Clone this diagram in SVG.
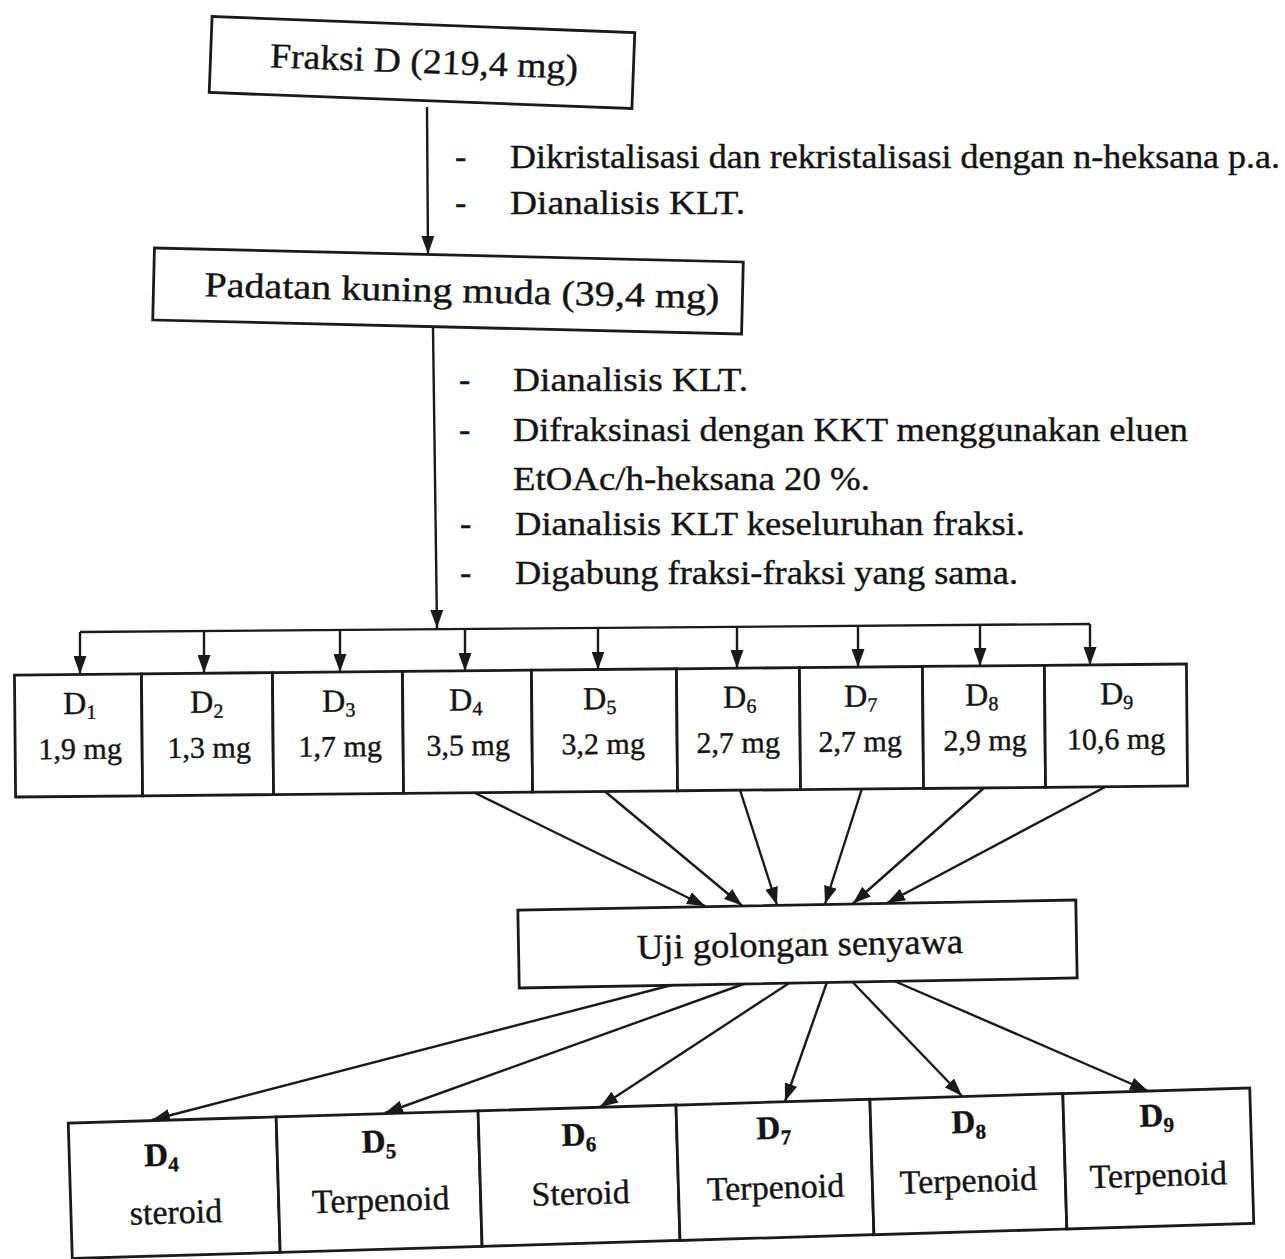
<svg xmlns="http://www.w3.org/2000/svg" width="1285" height="1259" viewBox="0 0 1285 1259" font-family="'Liberation Serif', 'Times New Roman', Times, serif">
<style>
.box{fill:#fff;stroke:#1a1a1a;stroke-width:2.8}
.cl{stroke:#1a1a1a;stroke-width:2.4;fill:none}
.ar{stroke:#1a1a1a;stroke-width:2.4;fill:none;marker-end:url(#ah)}
text{font-family:'Liberation Serif','Times New Roman',Times,serif;fill:#141414;stroke:#141414;stroke-width:0.4}
.t{font-size:35px}
.a{font-size:34px}
.c{font-size:32px;text-anchor:middle}
.m{font-size:30px;text-anchor:middle}
.b{font-size:33px;font-weight:bold;text-anchor:middle}
.n{font-size:34px;text-anchor:middle}
.mid{text-anchor:middle}
</style>
<defs>
<marker id="ah" markerUnits="userSpaceOnUse" viewBox="0 0 18 13" refX="18" refY="6.5" markerWidth="18" markerHeight="13" orient="auto">
<path d="M0,0 L18,6.5 L0,13 Z" fill="#1a1a1a"/>
</marker>
</defs>
<rect width="1285" height="1259" fill="#fff"/>

<g id="connectors">
<line class="ar" x1="427" y1="107" x2="428" y2="254"/>
<line class="ar" x1="433" y1="328" x2="437" y2="628"/>
<line class="cl" x1="80" y1="632" x2="1090" y2="624"/>
<line class="ar" x1="80" y1="632" x2="80" y2="674"/>
<line class="ar" x1="204" y1="631" x2="204" y2="673"/>
<line class="ar" x1="340" y1="630" x2="340" y2="672"/>
<line class="ar" x1="465" y1="629" x2="465" y2="671"/>
<line class="ar" x1="598" y1="628" x2="598" y2="669.5"/>
<line class="ar" x1="737" y1="627" x2="737" y2="668"/>
<line class="ar" x1="858" y1="626" x2="858" y2="667"/>
<line class="ar" x1="980" y1="625" x2="980" y2="666"/>
<line class="ar" x1="1090" y1="624" x2="1090" y2="665"/>
<line class="ar" x1="475" y1="793" x2="705" y2="906"/>
<line class="ar" x1="605" y1="791.5" x2="742" y2="905.5"/>
<line class="ar" x1="740" y1="790" x2="777" y2="905"/>
<line class="ar" x1="862" y1="788.5" x2="825" y2="904"/>
<line class="ar" x1="985" y1="787" x2="853" y2="903.5"/>
<line class="ar" x1="1107" y1="786" x2="887" y2="903"/>
<line class="ar" x1="672" y1="985" x2="152" y2="1120"/>
<line class="ar" x1="745" y1="983.5" x2="385" y2="1113"/>
<line class="ar" x1="790" y1="982.5" x2="600" y2="1107"/>
<line class="ar" x1="827" y1="982" x2="785" y2="1101.5"/>
<line class="ar" x1="852" y1="981.5" x2="962" y2="1096"/>
<line class="ar" x1="893" y1="980.5" x2="1148" y2="1091"/>
</g>

<g id="notes1">
<text class="a" x="455" y="168">-</text>
<text class="a" x="510" y="168" textLength="770" lengthAdjust="spacingAndGlyphs">Dikristalisasi dan rekristalisasi dengan n-heksana p.a.</text>
<text class="a" x="455" y="214">-</text>
<text class="a" x="510" y="214" textLength="235" lengthAdjust="spacingAndGlyphs">Dianalisis KLT.</text>
</g>

<g id="notes2">
<text class="a" x="459" y="391">-</text>
<text class="a" x="513" y="391" textLength="235" lengthAdjust="spacingAndGlyphs">Dianalisis KLT.</text>
<text class="a" x="459" y="441">-</text>
<text class="a" x="513" y="441" textLength="675" lengthAdjust="spacingAndGlyphs">Difraksinasi dengan KKT menggunakan eluen</text>
<text class="a" x="513" y="490" textLength="357" lengthAdjust="spacingAndGlyphs">EtOAc/h-heksana 20 %.</text>
<text class="a" x="460" y="535">-</text>
<text class="a" x="515" y="535" textLength="510" lengthAdjust="spacingAndGlyphs">Dianalisis KLT keseluruhan fraksi.</text>
<text class="a" x="460" y="584">-</text>
<text class="a" x="515" y="584" textLength="503" lengthAdjust="spacingAndGlyphs">Digabung fraksi-fraksi yang sama.</text>
</g>

<g id="fraksi-d" transform="rotate(2.17 422 62.5)">
<rect class="box" x="210.5" y="24.5" width="423" height="76"/>
<text class="t mid" x="424" y="73" textLength="308" lengthAdjust="spacingAndGlyphs">Fraksi D (219,4 mg)</text>
</g>

<g id="padatan" transform="rotate(1.36 448 291)">
<rect class="box" x="153.5" y="255" width="589" height="72"/>
<text class="t mid" x="462" y="302" textLength="515" lengthAdjust="spacingAndGlyphs">Padatan kuning muda (39,4 mg)</text>
</g>

<g transform="rotate(-0.54 601 730)">
<g id="frac-d1"><rect class="box" x="15" y="669.5" width="127" height="122"/>
<text class="c" x="80" y="709">D<tspan font-size="20" dy="5">1</tspan></text><text class="m" x="80" y="754">1,9 mg</text></g>
<g id="frac-d2"><rect class="box" x="142" y="669.5" width="131" height="122"/>
<text class="c" x="207" y="709">D<tspan font-size="20" dy="5">2</tspan></text><text class="m" x="209" y="754">1,3 mg</text></g>
<g id="frac-d3"><rect class="box" x="273" y="669.5" width="130" height="122"/>
<text class="c" x="339" y="709">D<tspan font-size="20" dy="5">3</tspan></text><text class="m" x="340" y="754">1,7 mg</text></g>
<g id="frac-d4"><rect class="box" x="403" y="669.5" width="129" height="122"/>
<text class="c" x="466" y="709">D<tspan font-size="20" dy="5">4</tspan></text><text class="m" x="468" y="754">3,5 mg</text></g>
<g id="frac-d5"><rect class="box" x="532" y="669.5" width="145" height="122"/>
<text class="c" x="600" y="709">D<tspan font-size="20" dy="5">5</tspan></text><text class="m" x="603" y="754">3,2 mg</text></g>
<g id="frac-d6"><rect class="box" x="677" y="669.5" width="123" height="122"/>
<text class="c" x="740" y="709">D<tspan font-size="20" dy="5">6</tspan></text><text class="m" x="738" y="754">2,7 mg</text></g>
<g id="frac-d7"><rect class="box" x="800" y="669.5" width="123" height="122"/>
<text class="c" x="861" y="709">D<tspan font-size="20" dy="5">7</tspan></text><text class="m" x="860" y="754">2,7 mg</text></g>
<g id="frac-d8"><rect class="box" x="923" y="669.5" width="122" height="122"/>
<text class="c" x="982" y="709">D<tspan font-size="20" dy="5">8</tspan></text><text class="m" x="985" y="754">2,9 mg</text></g>
<g id="frac-d9"><rect class="box" x="1045" y="669.5" width="142" height="122"/>
<text class="c" x="1117" y="709">D<tspan font-size="20" dy="5">9</tspan></text><text class="m" x="1116" y="754">10,6 mg</text></g>
</g>

<g id="uji" transform="rotate(-1.03 797.5 944)">
<rect class="box" x="518.5" y="905" width="558" height="78"/>
<text class="t mid" x="800" y="956" textLength="326" lengthAdjust="spacingAndGlyphs">Uji golongan senyawa</text>
</g>

<g transform="rotate(-1.7 661 1173)">
<g id="res-d4"><rect class="box" x="70" y="1105.5" width="208" height="135.5"/>
<text class="b" x="162" y="1151">D<tspan font-size="21" dy="6">4</tspan></text><text class="n" x="175" y="1209">steroid</text></g>
<g id="res-d5"><rect class="box" x="278" y="1105.5" width="202" height="135.5"/>
<text class="b" x="380" y="1144">D<tspan font-size="21" dy="6">5</tspan></text><text class="n" x="380" y="1203">Terpenoid</text></g>
<g id="res-d6"><rect class="box" x="480" y="1105.5" width="198" height="135.5"/>
<text class="b" x="580" y="1143">D<tspan font-size="21" dy="6">6</tspan></text><text class="n" x="580" y="1202">Steroid</text></g>
<g id="res-d7"><rect class="box" x="678" y="1105.5" width="194" height="135.5"/>
<text class="b" x="775" y="1142">D<tspan font-size="21" dy="6">7</tspan></text><text class="n" x="775" y="1202">Terpenoid</text></g>
<g id="res-d8"><rect class="box" x="872" y="1105.5" width="193" height="135.5"/>
<text class="b" x="970" y="1142">D<tspan font-size="21" dy="6">8</tspan></text><text class="n" x="968" y="1201">Terpenoid</text></g>
<g id="res-d9"><rect class="box" x="1065" y="1105.5" width="187" height="135.5"/>
<text class="b" x="1158" y="1141">D<tspan font-size="21" dy="6">9</tspan></text><text class="n" x="1158" y="1201">Terpenoid</text></g>
</g>
</svg>
